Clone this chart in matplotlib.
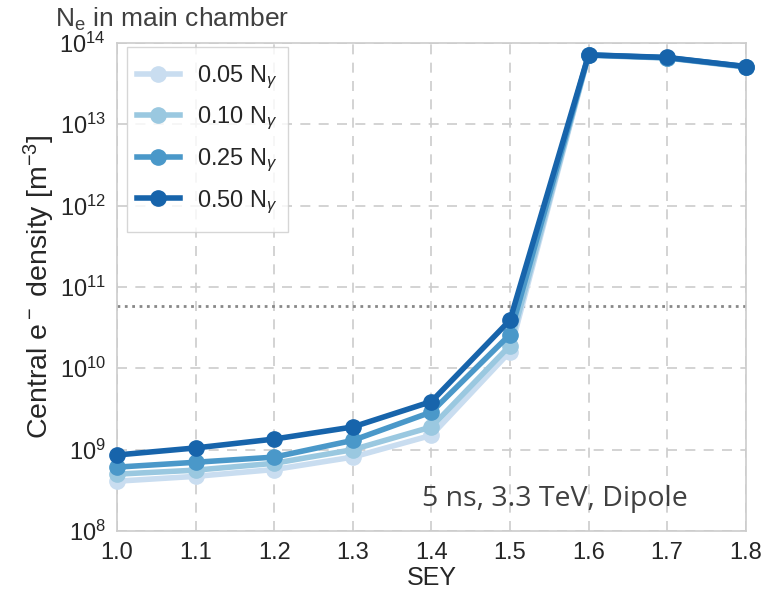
import numpy as np
import matplotlib
matplotlib.use('Agg')
import matplotlib.pyplot as plt
from matplotlib.path import Path

sey = [1.0, 1.1, 1.2, 1.3, 1.4, 1.5, 1.6, 1.7, 1.8]
labels = ['0.05 N$_\\gamma$', '0.10 N$_\\gamma$', '0.25 N$_\\gamma$', '0.50 N$_\\gamma$']
dens_005 = [4.1e8, 4.7e8, 5.7e8, 8.1e8, 1.5e9, 1.6e10, 7.0e13, 6.5e13, 5.0e13]
dens_010 = [5.0e8, 5.6e8, 6.8e8, 1.0e9, 1.9e9, 1.9e10, 7.05e13, 6.5e13, 5.05e13]
dens_025 = [6.1e8, 7.0e8, 8.1e8, 1.3e9, 2.9e9, 2.6e10, 7.1e13, 6.55e13, 5.1e13]
dens_050 = [8.6e8, 1.05e9, 1.35e9, 1.9e9, 3.9e9, 3.9e10, 7.1e13, 6.6e13, 5.1e13]
threshold = 5.9e10
colors = ['#c9ddf0', '#9ac8e0', '#4a98c9', '#1764ab']

plt.rcParams['font.family'] = ['Liberation Sans', 'DejaVu Sans']
plt.rcParams['mathtext.fontset'] = 'custom'
plt.rcParams['mathtext.rm'] = 'Liberation Sans'
plt.rcParams['mathtext.it'] = 'Liberation Sans:italic'


def tall_box(x0, y0, width, height, mutation_size):
    # legend frame with some extra room above and below the entries
    dy = 0.26 * mutation_size
    verts = [(x0, y0 - dy), (x0 + width, y0 - dy), (x0 + width, y0 + height + dy),
             (x0, y0 + height + dy), (x0, y0 - dy)]
    return Path(verts, closed=True)


fig = plt.figure(figsize=(7.72, 5.94), dpi=100)
ax = fig.add_axes([0.1516, 0.106, 0.8144, 0.822])

for dens, lab, col in zip([dens_005, dens_010, dens_025, dens_050], labels, colors):
    ax.plot(sey, dens, '-o', color=col, lw=4, ms=11, label=lab, clip_on=False, zorder=3)

ax.axhline(threshold, color='#888888', ls=':', lw=2, zorder=2)

ax.set_yscale('log')
ax.set_xlim(1.0, 1.8)
ax.set_ylim(1e8, 1e14)
ax.set_xticks(np.arange(1.0, 1.81, 0.1))
ax.set_xticklabels(['%.1f' % v for v in np.arange(1.0, 1.81, 0.1)])
ax.minorticks_off()
ax.set_yticks([1e8, 1e9, 1e10, 1e11, 1e12, 1e13, 1e14])
ax.tick_params(labelsize=17, colors='#262626', length=0, pad=8)
ax.grid(True, color='#cccccc', ls=(0, (6, 5)), lw=1.2)
for s in ax.spines.values():
    s.set_color('#cccccc')
    s.set_linewidth(1.2)

ax.set_xlabel('SEY', fontsize=18, color='#262626', labelpad=1)
ax.set_ylabel('Central e$^-$ density [m$^{-3}$]', fontsize=20.5, color='#262626', labelpad=2)
fig.text(0.071, 0.968, 'N$_\\mathrm{e}$ in main chamber', fontsize=19, color='#404040', va='center')

ax.text(0.697, 0.065, '5 ns, 3.3 TeV, Dipole', transform=ax.transAxes, ha='center',
        va='center', fontsize=20.5, color='#404040', family='Open Sans')

leg = ax.legend(loc='upper left', bbox_to_anchor=(0.016, 0.978), fontsize=17, frameon=True,
                borderpad=0.42, labelspacing=0.6, handlelength=1.8,
                handletextpad=0.75, borderaxespad=0)
leg.get_frame().set_edgecolor('#cccccc')
leg.get_frame().set_linewidth(1.0)
leg.get_frame().set_boxstyle(tall_box)
for t in leg.get_texts():
    t.set_color('#262626')

fig.savefig('out.png', dpi=100)
